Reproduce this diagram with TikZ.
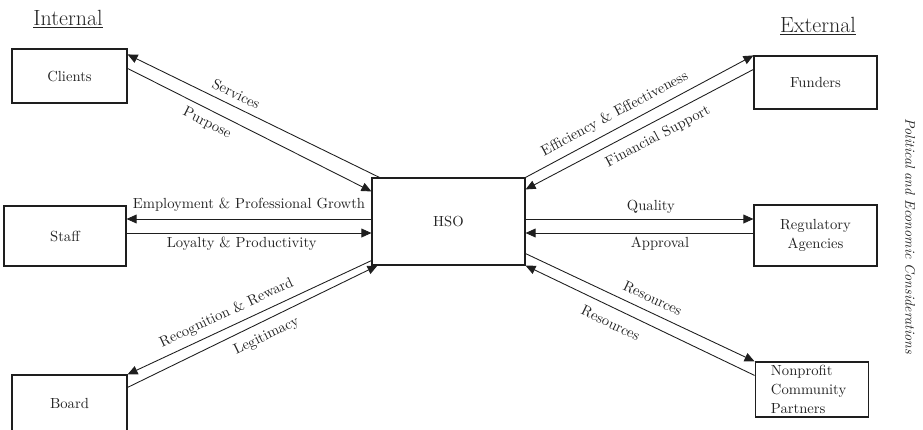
\documentclass[tikz,border=0pt]{standalone}
\usepackage{tikz}
\usetikzlibrary{positioning, calc, arrows.meta}
\definecolor{inkGray} {RGB}{ 35, 35, 35}
\definecolor{lineGray}{RGB}{ 30, 30, 30}
\tikzset{
  %% stakeholder box
  party/.style={
    rectangle, draw=lineGray, line width=0.8pt,
    inner sep=0pt, align=center, text=inkGray
  },
  %% one-way exchange arrow
  arr/.style={
    -{Triangle[length=6.8pt,width=6pt]},
    line width=0.6pt, draw=lineGray
  },
  %% label riding along an arrow
  lbl/.style={
    sloped, font=\fontsize{10}{12}\selectfont, text=inkGray,
    inner sep=2.5pt
  },
  %% column headings
  heading/.style={
    font=\fontsize{15}{18}\selectfont, text=inkGray, inner sep=0pt
  }
}

\begin{document}
\begin{tikzpicture}[x=0.024cm, y=-0.024cm, font=\fontsize{10}{13}\selectfont]

\clip (0,0) rectangle (923,429);

%% ═══════════════════════════════════════════════════════════
%%  NODES
%% ═══════════════════════════════════════════════════════════

\node[party, minimum width=3.672cm, minimum height=2.088cm] (HSO) at (448.5,221.5) {HSO};

% internal stakeholders (left)
\node[party, minimum width=2.76cm,  minimum height=1.296cm] (clients) at (69.5,76)  {Clients};
\node[party, minimum width=2.928cm, minimum height=1.44cm]  (staff)   at (65,236)   {Staff};
\node[party, minimum width=2.76cm,  minimum height=1.344cm] (board)   at (69.5,403) {Board};

% external stakeholders (right)
\node[party, minimum width=2.952cm, minimum height=1.272cm] (funders) at (815.5,82.5)  {Funders};
\node[party, minimum width=2.952cm, minimum height=1.464cm] (regul)   at (815.5,235.5) {Regulatory\\Agencies};
\node[party, minimum height=1.32cm,
      align=left, text width=1.97cm, inner xsep=0.38cm] (partners) at (812,389.5)
  {Nonprofit\\Community\\Partners};

\node[heading, anchor=base] (internal) at (68,25)  {\underline{Internal}};
\node[heading, anchor=base] (external) at (818,32) {\underline{External}};

\node[rotate=-90, font=\fontsize{9.5}{11}\selectfont\itshape, text=inkGray]
  (context) at (910,236) {Political and Economic Considerations};

%% ═══════════════════════════════════════════════════════════
%%  EXCHANGES WITH INTERNAL STAKEHOLDERS
%% ═══════════════════════════════════════════════════════════

\draw[arr] ($(HSO.north west)+(8,0)$) --
  node[lbl, above=2pt, pos=0.59] {Services} ($(clients.north east)+(0,6)$);
\draw[arr] ($(clients.north east)+(0,20)$) --
  node[lbl, below=2pt, pos=0.35] {Purpose} ($(HSO.north west)+(0,14)$);

\coordinate (hW1) at ($(HSO.west)+(0,-2.5)$);
\coordinate (hW2) at ($(HSO.west)+(0,11.5)$);
\draw[arr] (hW1) --
  node[lbl, above=2pt, midway] {Employment \& Professional Growth} (hW1 -| staff.east);
\draw[arr] (hW2 -| staff.east) --
  node[lbl, below, pos=0.47] {Loyalty \& Productivity} (hW2);

\draw[arr] ($(HSO.south west)+(0,-5)$) --
  node[lbl, above=2pt, pos=0.57] {Recognition \& Reward} (board.north east);
\draw[arr] ($(board.north east)+(0,13)$) --
  node[lbl, below=3pt, pos=0.53] {Legitimacy} ($(HSO.south west)+(6,0)$);

%% ═══════════════════════════════════════════════════════════
%%  EXCHANGES WITH EXTERNAL STAKEHOLDERS
%% ═══════════════════════════════════════════════════════════

\draw[arr] (HSO.north east) --
  node[lbl, above=2pt, pos=0.42] {Efficiency \& Effectiveness} (funders.north west);
\draw[arr] ($(funders.north west)+(0,14)$) --
  node[lbl, below=3pt, pos=0.45] {Financial Support} ($(HSO.north east)+(0,12)$);

\coordinate (hE1) at ($(HSO.east)+(0,-2.5)$);
\coordinate (hE2) at ($(HSO.east)+(0,11.5)$);
\draw[arr] (hE1) --
  node[lbl, above=1pt, pos=0.55] {Quality} (hE1 -| regul.west);
\draw[arr] (hE2 -| regul.west) --
  node[lbl, below, pos=0.41] {Approval} (hE2);

\draw[arr] ($(HSO.south east)+(0,-12)$) --
  node[lbl, above=3pt, pos=0.53] {Resources} (partners.north west);
\draw[arr] ($(partners.north west)+(0,14)$) --
  node[lbl, below=4pt, pos=0.6] {Resources} (HSO.south east);

\end{tikzpicture}
\end{document}
